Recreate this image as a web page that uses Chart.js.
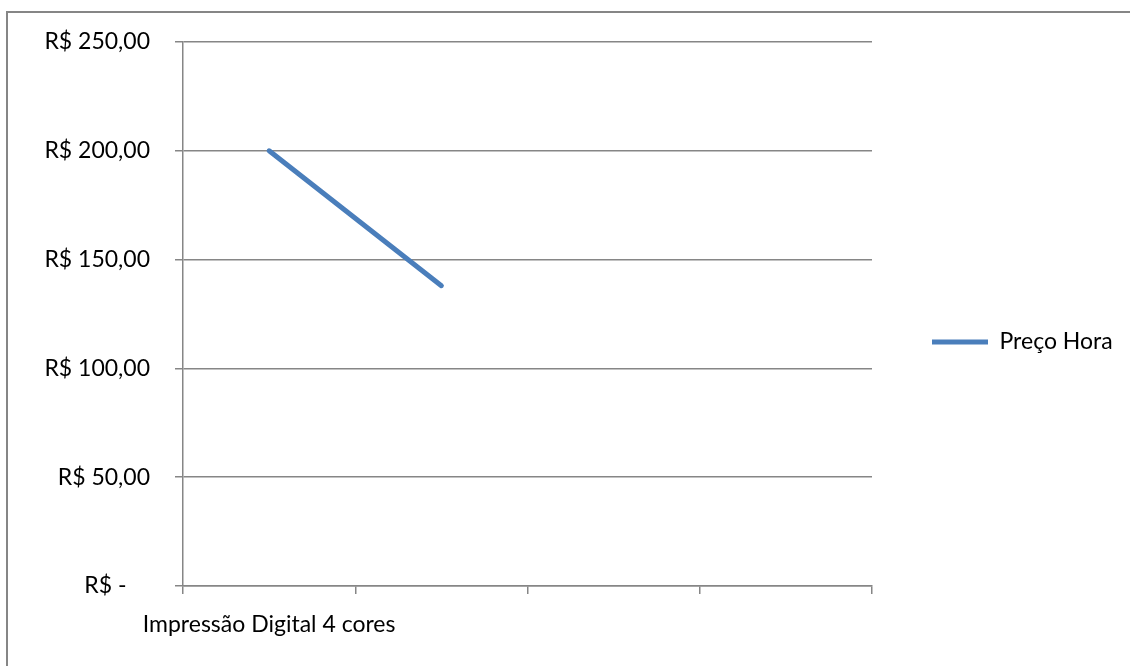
<!DOCTYPE html>
<html>
<head>
<meta charset="utf-8">
<script src="https://cdn.jsdelivr.net/npm/chart.js@4/dist/chart.umd.min.js"></script>
<style>
  html, body { margin: 0; padding: 0; background: #ffffff; }
  #wrap { width: 1130px; height: 666px; position: relative; }
</style>
</head>
<body>
<div id="wrap"><canvas id="chart" width="1130" height="666"></canvas></div>
<script>
// Categories along the horizontal axis (only the first one is named)
const categories = ['Impressão Digital 4 cores', '', '', ''];
// Hourly price per category
const precoHora = [200, 138, null, null];
// Value axis tick labels (accounting style, BRL)
const yTickValues = [0, 50, 100, 150, 200, 250];
const yTickLabels = ['R$ -', 'R$ 50,00', 'R$ 100,00', 'R$ 150,00', 'R$ 200,00', 'R$ 250,00'];
const seriesName = 'Preço Hora';

const FONT_FAMILY = 'Lato, "Liberation Sans", sans-serif';
const FONT_SIZE = 23;
const AXIS_GREY = '#868686';
const LINE_BLUE = '#4A7EBB';

// Plot area edges
const PLOT_LEFT = 183, PLOT_RIGHT = 872, PLOT_TOP = 42, PLOT_BOTTOM = 586;
const PAD_BOTTOM = 24;
const LEGEND_PAD = 60, LEGEND_LINE = 56;

// Size the legend so the plot ends at PLOT_RIGHT
const mctx = document.createElement('canvas').getContext('2d');
mctx.font = FONT_SIZE + 'px ' + FONT_FAMILY;
const legendTextW = mctx.measureText(seriesName).width;
const legendW = LEGEND_PAD + LEGEND_LINE + FONT_SIZE / 2 + legendTextW + 10;
const padRight = Math.max(0, 1130 - PLOT_RIGHT - legendW);

// Outer chart frame
const framePlugin = {
  id: 'frame',
  beforeDraw(chart) {
    const c = chart.ctx;
    c.save();
    c.fillStyle = '#ffffff';
    c.fillRect(0, 0, chart.width, chart.height);
    c.strokeStyle = AXIS_GREY;
    c.lineWidth = 2;
    c.strokeRect(7, 12, chart.width + 20, chart.height + 20);
    c.restore();
  }
};

new Chart(document.getElementById('chart'), {
  type: 'line',
  data: {
    labels: categories,
    datasets: [{
      label: seriesName,
      data: precoHora,
      borderColor: LINE_BLUE,
      backgroundColor: LINE_BLUE,
      borderWidth: 5,
      borderCapStyle: 'round',
      pointRadius: 0,
      pointHoverRadius: 0,
      pointStyle: 'line',
      tension: 0,
      spanGaps: false
    }]
  },
  options: {
    responsive: false,
    animation: false,
    devicePixelRatio: 1,
    layout: {
      padding: { left: 0, top: PLOT_TOP, right: padRight, bottom: PAD_BOTTOM }
    },
    plugins: {
      tooltip: { enabled: false },
      legend: {
        position: 'right',
        align: 'center',
        labels: {
          usePointStyle: true,
          pointStyleWidth: LEGEND_LINE,
          padding: LEGEND_PAD,
          color: '#000000',
          font: { family: FONT_FAMILY, size: FONT_SIZE }
        }
      }
    },
    scales: {
      x: {
        type: 'category',
        offset: true,
        grid: {
          offset: true,
          drawOnChartArea: false,
          drawTicks: true,
          tickLength: 8,
          color: AXIS_GREY,
          lineWidth: 1.5
        },
        border: { color: AXIS_GREY, width: 1.5 },
        ticks: {
          autoSkip: false,
          maxRotation: 0,
          minRotation: 0,
          padding: 17,
          color: '#000000',
          font: { family: FONT_FAMILY, size: FONT_SIZE }
        },
        afterFit(scale) { scale.height = 666 - PAD_BOTTOM - PLOT_BOTTOM; }
      },
      y: {
        min: 0,
        max: 250,
        grid: {
          color: AXIS_GREY,
          lineWidth: 1.5,
          tickLength: 8
        },
        border: { color: AXIS_GREY, width: 1.5 },
        afterBuildTicks(scale) {
          scale.ticks = yTickValues.map(v => ({ value: v }));
        },
        ticks: {
          padding: 25,
          color: '#000000',
          font: { family: FONT_FAMILY, size: FONT_SIZE },
          callback(value) {
            const i = yTickValues.indexOf(value);
            const label = i >= 0 ? yTickLabels[i] : '';
            // accounting format keeps the dash away from the column edge
            return label.endsWith('-') ? label + '    ' : label;
          }
        },
        afterFit(scale) { scale.width = PLOT_LEFT; }
      }
    }
  },
  plugins: [framePlugin]
});
</script>
</body>
</html>
